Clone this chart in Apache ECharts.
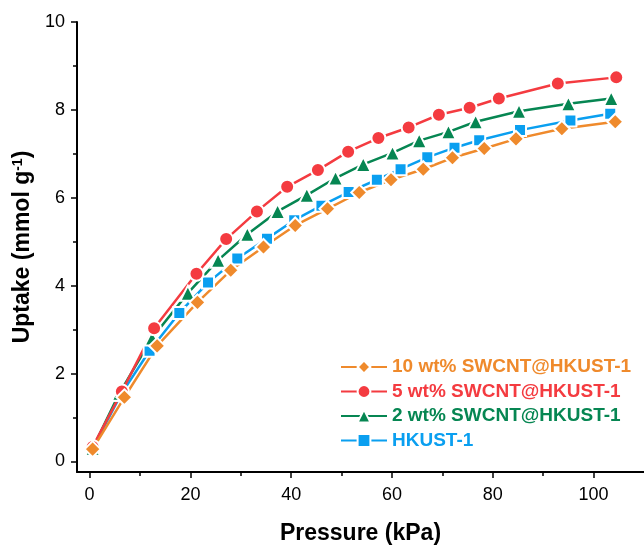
<!DOCTYPE html>
<html>
<head>
<meta charset="utf-8">
<script src="https://cdn.jsdelivr.net/npm/echarts@6/dist/echarts.min.js"></script>
<style>
  html, body { margin: 0; padding: 0; background: #fff; }
  #chart { width: 644px; height: 550px; }
</style>
</head>
<body>
<div id="chart"></div>
<script>
var seriesNames = ['10 wt% SWCNT@HKUST-1', '5 wt% SWCNT@HKUST-1', '2 wt% SWCNT@HKUST-1', 'HKUST-1'];
var seriesColors = ['#EF8A2C', '#F43B40', '#068652', '#0A9FF0'];

// pressure (kPa) / uptake (mmol/g)
var p10 = [0.6, 6.9, 13.4, 21.4, 28.0, 34.5, 40.8, 47.2, 53.5, 59.8, 66.2, 72.0, 78.3, 84.6, 93.7, 104.3];
var u10 = [0.28, 1.46, 2.63, 3.62, 4.35, 4.88, 5.37, 5.75, 6.12, 6.41, 6.65, 6.91, 7.12, 7.34, 7.57, 7.73];

var p5 = [0.6, 6.4, 12.8, 21.2, 27.1, 33.2, 39.2, 45.3, 51.3, 57.3, 63.3, 69.3, 75.4, 81.2, 92.9, 104.5];
var u5 = [0.33, 1.59, 3.03, 4.27, 5.06, 5.69, 6.25, 6.63, 7.05, 7.36, 7.60, 7.89, 8.05, 8.26, 8.60, 8.74];

var p2 = [0.6, 5.9, 12.4, 19.5, 25.5, 31.3, 37.3, 43.1, 48.8, 54.3, 60.1, 65.4, 71.2, 76.6, 85.2, 95.0, 103.5];
var u2 = [0.30, 1.55, 2.81, 3.83, 4.58, 5.17, 5.69, 6.06, 6.45, 6.76, 7.02, 7.30, 7.50, 7.73, 7.97, 8.14, 8.26];

var p0 = [0.6, 6.2, 11.9, 17.8, 23.5, 29.3, 35.2, 40.6, 46.0, 51.4, 57.0, 61.7, 67.0, 72.4, 77.3, 85.4, 95.4, 103.3];
var u0 = [0.29, 1.52, 2.52, 3.38, 4.07, 4.62, 5.07, 5.49, 5.82, 6.13, 6.41, 6.65, 6.92, 7.14, 7.31, 7.54, 7.76, 7.91];

var xMajor = [0, 20, 40, 60, 80, 100];
var xMinor = [10, 30, 50, 70, 90];
var yMajor = [0, 2, 4, 6, 8, 10];
var yMinor = [1, 3, 5, 7, 9];

function pairs(xs, ys) {
    return xs.map(function(x, i) { return [x, ys[i]]; });
}

var myChart = echarts.init(document.getElementById('chart'));

var font = 'Liberation Sans, Arial, sans-serif';

function mkSeries(idx, xs, ys, symbol, size) {
    return {
        name: seriesNames[idx],
        type: 'line',
        data: pairs(xs, ys),
        symbol: symbol,
        symbolSize: size,
        lineStyle: { color: seriesColors[idx], width: 2.5 },
        itemStyle: { color: seriesColors[idx], borderColor: '#fff', borderWidth: 2 },
        emphasis: { disabled: true },
        animation: false
    };
}

var option = {
    animation: false,
    grid: { left: 77, top: 22, right: 0, bottom: 72 },
    legend: {
        left: 335,
        top: 352,
        orient: 'vertical',
        itemWidth: 46,
        itemHeight: 16,
        itemGap: 4.5,
        textStyle: { fontFamily: font, fontSize: 19, fontWeight: 'bold', lineHeight: 20 },
        data: seriesNames.map(function(n, i) {
            return { name: n, textStyle: { color: seriesColors[i] } };
        })
    },
    xAxis: [{
        type: 'value',
        min: -2.5,
        max: 110,
        name: 'Pressure (kPa)',
        nameLocation: 'middle',
        nameGap: 50,
        nameTextStyle: { fontFamily: font, fontSize: 23, fontWeight: 'bold', color: '#000' },
        axisLine: { onZero: false, lineStyle: { color: '#000', width: 2 } },
        axisTick: { customValues: xMajor, length: 6, lineStyle: { color: '#000', width: 1.5 } },
        axisLabel: { customValues: xMajor, margin: 14, fontFamily: font, fontSize: 18, color: '#000' },
        splitLine: { show: false }
    }, {
        type: 'value',
        min: -2.5,
        max: 110,
        position: 'bottom',
        axisLine: { show: false, onZero: false },
        axisTick: { customValues: xMinor, length: 4, lineStyle: { color: '#000', width: 1.5 } },
        axisLabel: { show: false },
        splitLine: { show: false }
    }],
    yAxis: [{
        type: 'value',
        min: -0.24,
        max: 10,
        name: '{a|Uptake (mmol g}{b|-1}{a|)}',
        nameLocation: 'middle',
        nameGap: 36,
        nameTextStyle: {
            rich: {
                a: { fontFamily: font, fontSize: 23, fontWeight: 'bold', color: '#000' },
                b: { fontFamily: font, fontSize: 14, fontWeight: 'bold', color: '#000', verticalAlign: 'top', padding: [0, 0, 8, 0] }
            }
        },
        axisLine: { onZero: false, lineStyle: { color: '#000', width: 2 } },
        axisTick: { customValues: yMajor, length: 6, lineStyle: { color: '#000', width: 1.5 } },
        axisLabel: { customValues: yMajor, margin: 12, fontFamily: font, fontSize: 18, color: '#000' },
        splitLine: { show: false }
    }, {
        type: 'value',
        min: -0.24,
        max: 10,
        position: 'left',
        axisLine: { show: false, onZero: false },
        axisTick: { customValues: yMinor, length: 4, lineStyle: { color: '#000', width: 1.5 } },
        axisLabel: { show: false },
        splitLine: { show: false }
    }],
    series: [
        mkSeries(3, p0, u0, 'rect', 12),
        mkSeries(2, p2, u2, 'triangle', 15),
        mkSeries(1, p5, u5, 'circle', 14),
        mkSeries(0, p10, u10, 'diamond', 16)
    ]
};

myChart.setOption(option);
</script>
</body>
</html>
